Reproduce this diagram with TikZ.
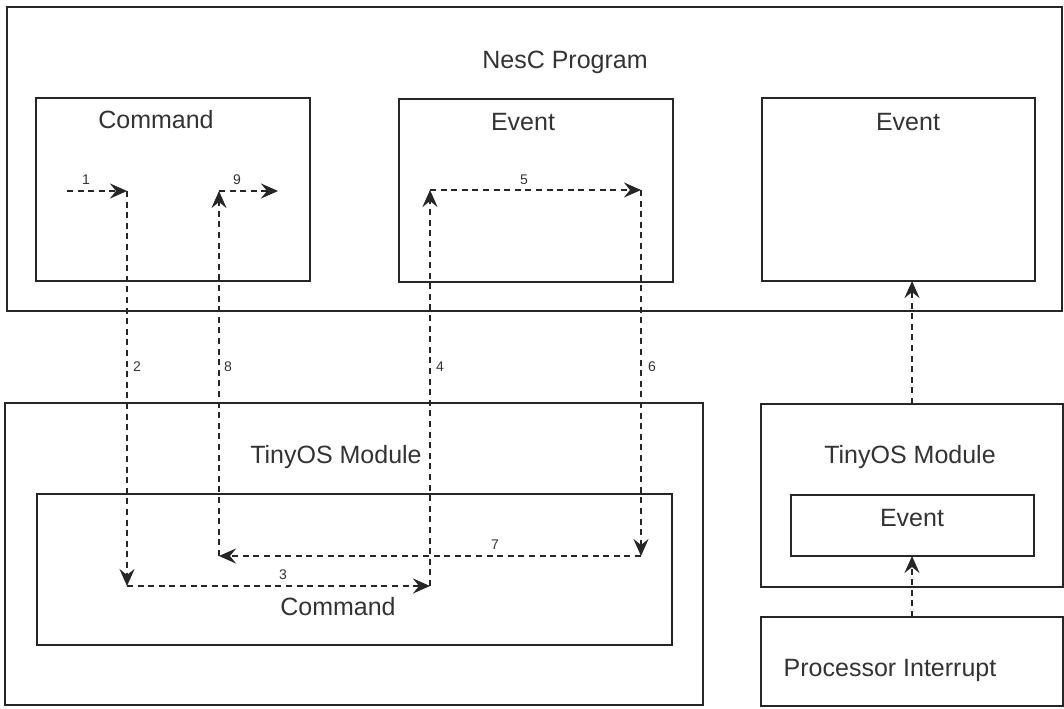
\documentclass[tikz,border=0pt]{standalone}
\usepackage{fontspec}
\setmainfont{Liberation Sans}
\usetikzlibrary{arrows.meta,fit}
\begin{document}
\begin{tikzpicture}[x=0.5pt,y=-0.5pt,
 box/.style={draw=black!85, line width=1.4pt, inner sep=0pt, outer sep=0pt},
 title/.style={font=\fontsize{12.5}{15}\selectfont, text=black!80, inner sep=0pt},
 num/.style={font=\fontsize{7}{8}\selectfont, text=black!80, inner sep=0pt},
 flow/.style={draw=black!85, line width=1.3pt, dash pattern=on 3pt off 2.3pt, -{Stealth[length=8.5pt,width=7.5pt,inset=3pt]}}]
\useasboundingbox (0,0) rectangle (1064,708);
% boxes
\node[box, fit={(7,7) (1062,311)}] (nesc) {};
\node[box, fit={(36,98) (310,281)}] (cmd) {};
\node[box, fit={(399,99) (673,282)}] (ev1) {};
\node[box, fit={(762,98) (1035,281)}] (ev2) {};
\node[box, fit={(5,403) (703,705)}] (tml) {};
\node[box, fit={(37,494) (672,645)}] (cmdl) {};
\node[box, fit={(761,404) (1063,587)}] (tmr) {};
\node[box, fit={(791,495) (1034,556)}] (evr) {};
\node[box, fit={(761,617) (1063,706)}] (proc) {};
% titles
\node[title] (tnesc) at (565,62) {NesC Program};
\node[title] (tcmd) at (156,120) {Command};
\node[title] (tev1) at (523,122) {Event};
\node[title] (tev2) at (908,122) {Event};
\node[title] (ttml) at (336,457) {TinyOS Module};
\node[title] (tcmdl) at (338,607) {Command};
\node[title] (ttmr) at (910,457) {TinyOS Module};
\node[title] (tevr) at (912,518) {Event};
\node[title] (tproc) at (890,670) {Processor Interrupt};
% flow points
\coordinate (c0) at (67,191);
\coordinate (c1) at (127,191);
\coordinate (c2) at (127,586);
\coordinate (c3) at (430,586);
\coordinate (c4) at (430,190);
\coordinate (c5) at (641,190);
\coordinate (c6) at (641,556);
\coordinate (c7) at (219,556);
\coordinate (c8) at (219,191);
\coordinate (c9) at (278,191);
\draw[flow] (c0) -- (c1);
\draw[flow] (c1) -- (c2);
\draw[flow] (c2) -- (c3);
\draw[flow] (c3) -- (c4);
\draw[flow] (c4) -- (c5);
\draw[flow] (c5) -- (c6);
\draw[flow] (c6) -- (c7);
\draw[flow] (c7) -- (c8);
\draw[flow] (c8) -- (c9);
\draw[flow] (proc.north) -- (evr.south -| proc.north);
\draw[flow] (tmr.north) -- (tmr.north |- ev2.south);
% numbers
\node[num] (n1) at (86,180) {1};
\node[num] (n2) at (137,367) {2};
\node[num] (n3) at (283,575) {3};
\node[num] (n4) at (440,367) {4};
\node[num] (n5) at (524,180) {5};
\node[num] (n6) at (652,367) {6};
\node[num] (n7) at (495,545) {7};
\node[num] (n8) at (228,367) {8};
\node[num] (n9) at (237,180) {9};
\end{tikzpicture}
\end{document}
